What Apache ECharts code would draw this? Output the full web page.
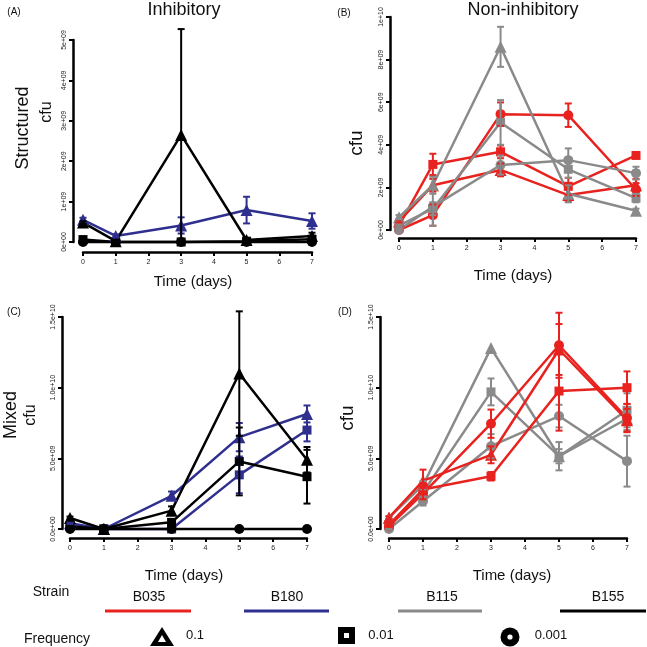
<!DOCTYPE html>
<html lang="en">
<head>
<meta charset="UTF-8">
<title>cfu over time</title>
<script src="https://cdn.jsdelivr.net/npm/echarts@6/dist/echarts.min.js"></script>
<style>
  html, body { margin: 0; padding: 0; background: #fff; }
  #chart { width: 647px; height: 647px; }
</style>
</head>
<body>
<div id="chart"></div>
<script>
// sampling days and tick labels
const days = [0, 1, 3, 5, 7];
const dayTicks = ['0', '1', '2', '3', '4', '5', '6', '7'];
const ticksA = ['0e+00', '1e+09', '2e+09', '3e+09', '4e+09', '5e+09'];
const ticksB = ['0e+00', '2e+09', '4e+09', '6e+09', '8e+09', '1e+10'];
const ticksCD = ['0.0e+00', '5.0e+09', '1.0e+10', '1.5e+10'];

// values in units of 1e9 cfu, err = half length of the error bar
// (A) inhibitory, structured
const aB180Tri = [0.55, 0.15, 0.41, 0.79, 0.52];
const aB180TriErr = [0.05, 0.04, 0.2, 0.33, 0.19];
const aB155Tri = [0.48, 0.02, 2.65, 0.05, 0.15];
const aB155TriErr = [0.03, 0, 2.62, 0.03, 0.08];
const aB155Sq = [0.06, 0, 0, 0.02, 0.07];
const aB155SqErr = [0, 0, 0, 0, 0];
const aB155Circ = [0, 0, 0, 0, 0];
const aB155CircErr = [0, 0, 0, 0, 0];

// (B) non-inhibitory, structured
const bB035Circ = [0.0, 0.7, 5.44, 5.39, 1.9];
const bB035CircErr = [0.05, 0.5, 0.55, 0.55, 0.3];
const bB035Sq = [0.2, 3.08, 3.67, 2.05, 3.5];
const bB035SqErr = [0.05, 0.5, 0.3, 0.4, 0.1];
const bB035Tri = [0.4, 2.1, 2.82, 1.64, 2.1];
const bB035TriErr = [0.05, 0.3, 0.3, 0.3, 0.3];
const bB115Tri = [0.6, 2.1, 8.6, 1.7, 0.9];
const bB115TriErr = [0.1, 0.4, 0.94, 0.4, 0.1];
const bB115Sq = [0.2, 1.0, 5.05, 2.85, 1.5];
const bB115SqErr = [0.05, 0.3, 1.05, 0.4, 0.2];
const bB115Circ = [0.0, 1.1, 3.05, 3.28, 2.67];
const bB115CircErr = [0.05, 0.9, 0.45, 0.55, 0.3];

// (C) inhibitory, mixed
const cB180Tri = [0.4, 0, 2.35, 6.5, 8.14];
const cB180TriErr = [0.05, 0, 0.3, 1.0, 0.6];
const cB180Sq = [0.2, 0, 0, 3.83, 7.0];
const cB180SqErr = [0, 0, 0, 1.3, 0.8];
const cB155Tri = [0.78, 0, 1.3, 11.0, 4.9];
const cB155TriErr = [0.1, 0, 0.3, 4.4, 0.9];
const cB155Sq = [0.2, 0, 0.47, 4.78, 3.7];
const cB155SqErr = [0, 0, 0.1, 2.4, 1.9];
const cB155Circ = [0, 0, 0, 0, 0];
const cB155CircErr = [0, 0, 0, 0, 0];

// (D) non-inhibitory, mixed
const dB115Tri = [0.8, 3.1, 12.8, 5.15, 7.8];
const dB115TriErr = [0.1, 0.3, 0, 0.5, 0.8];
const dB115Sq = [0.3, 2.6, 9.7, 5.15, 8.4];
const dB115SqErr = [0.05, 0.3, 0.95, 1.0, 1.2];
const dB115Circ = [0.0, 1.96, 5.86, 7.99, 4.8];
const dB115CircErr = [0.05, 0.3, 0.85, 0.8, 1.8];
const dB035Circ = [0.2, 2.5, 7.45, 13.0, 7.85];
const dB035CircErr = [0.05, 0.4, 1.0, 2.3, 1.0];
const dB035Sq = [0.3, 2.8, 3.73, 9.76, 10.0];
const dB035SqErr = [0.05, 0.3, 0.3, 2.8, 1.15];
const dB035Tri = [0.8, 3.4, 5.25, 12.7, 7.7];
const dB035TriErr = [0.1, 0.8, 0.6, 1.8, 0.8];

const RED = '#e8221e', BLUE = '#2f2f8f', GRAY = '#8a8a8a', BLACK = '#000000';
const FONT = 'Liberation Sans';

const chart = echarts.init(document.getElementById('chart'));

// plot boxes: x from day 0 to day 7, y from 0 to axis max
const panels = [
    { left: 83, top: 40, width: 229, height: 202 },
    { left: 399, top: 17, width: 237, height: 213 },
    { left: 70, top: 317, width: 237, height: 212 },
    { left: 389, top: 317, width: 238, height: 212 }
];
const yMax = [5, 10, 15, 15];
const yStep = [1, 2, 5, 5];
const yTicks = [ticksA, ticksB, ticksCD, ticksCD];
// R style: axes are pulled away from the plot box
const yOff = [10, 9, 8, 9];
const xOff = [10, 8, 9, 9];

// three grids per panel: data, shifted y axis, shifted x axis
const grids = [], xAxes = [], yAxes = [];
const hidden = { show: false };
panels.forEach((p, i) => {
    grids.push(p);
    grids.push({ left: p.left - yOff[i], top: p.top, width: p.width, height: p.height });
    grids.push({ left: p.left, top: p.top + xOff[i], width: p.width, height: p.height });
    for (let k = 0; k < 3; k++) {
        const gi = i * 3 + k;
        const xShow = k === 2, yShow = k === 1;
        xAxes.push({
            type: 'value', gridIndex: gi, min: 0, max: 7, interval: 1, show: xShow,
            axisLine: { show: xShow, onZero: false, lineStyle: { color: '#000', width: 2.5 } },
            axisTick: { show: xShow, length: 4, lineStyle: { color: '#000', width: 2 } },
            axisLabel: { show: xShow, fontSize: 7, color: '#222', margin: 7, fontFamily: FONT,
                formatter: v => dayTicks[v] },
            splitLine: hidden
        });
        yAxes.push({
            type: 'value', gridIndex: gi, min: 0, max: yMax[i], interval: yStep[i], show: yShow,
            axisLine: { show: yShow, onZero: false, lineStyle: { color: '#000', width: 2.5 } },
            axisTick: { show: yShow, length: 4, lineStyle: { color: '#000', width: 2 } },
            axisLabel: { show: yShow, fontSize: 7, color: '#222', margin: 5, rotate: 90, fontFamily: FONT,
                formatter: v => yTicks[i][Math.round(v / yStep[i])] },
            splitLine: hidden
        });
    }
});

const series = [];
const shapes = { tri: ['triangle', 12], sq: ['rect', 9], circ: ['circle', 10] };

function addGroup(panel, vals, errs, color, shape) {
    const gi = panel * 3;
    series.push({
        type: 'line', xAxisIndex: gi, yAxisIndex: gi, clip: false,
        data: days.map((d, k) => [d, vals[k]]),
        symbol: shapes[shape][0], symbolSize: shapes[shape][1],
        lineStyle: { color: color, width: 2.5 },
        itemStyle: { color: color },
        z: 3
    });
    const eb = [];
    days.forEach((d, k) => {
        if (errs[k] > 0) eb.push([d, vals[k] - errs[k], vals[k] + errs[k]]);
    });
    series.push({
        type: 'custom', xAxisIndex: gi, yAxisIndex: gi, clip: false, z: 4,
        data: eb,
        renderItem: (params, api) => {
            const top = api.coord([api.value(0), api.value(2)]);
            const bot = api.coord([api.value(0), api.value(1)]);
            const w = 3.5;
            const st = { stroke: color, lineWidth: 2 };
            return {
                type: 'group', children: [
                    { type: 'line', shape: { x1: top[0], y1: top[1], x2: bot[0], y2: bot[1] }, style: st },
                    { type: 'line', shape: { x1: top[0] - w, y1: top[1], x2: top[0] + w, y2: top[1] }, style: st },
                    { type: 'line', shape: { x1: bot[0] - w, y1: bot[1], x2: bot[0] + w, y2: bot[1] }, style: st }
                ]
            };
        }
    });
}

addGroup(0, aB180Tri, aB180TriErr, BLUE, 'tri');
addGroup(0, aB155Circ, aB155CircErr, BLACK, 'circ');
addGroup(0, aB155Sq, aB155SqErr, BLACK, 'sq');
addGroup(0, aB155Tri, aB155TriErr, BLACK, 'tri');

addGroup(1, bB035Circ, bB035CircErr, RED, 'circ');
addGroup(1, bB035Sq, bB035SqErr, RED, 'sq');
addGroup(1, bB035Tri, bB035TriErr, RED, 'tri');
addGroup(1, bB115Circ, bB115CircErr, GRAY, 'circ');
addGroup(1, bB115Sq, bB115SqErr, GRAY, 'sq');
addGroup(1, bB115Tri, bB115TriErr, GRAY, 'tri');

addGroup(2, cB180Tri, cB180TriErr, BLUE, 'tri');
addGroup(2, cB180Sq, cB180SqErr, BLUE, 'sq');
addGroup(2, cB155Circ, cB155CircErr, BLACK, 'circ');
addGroup(2, cB155Sq, cB155SqErr, BLACK, 'sq');
addGroup(2, cB155Tri, cB155TriErr, BLACK, 'tri');

addGroup(3, dB115Circ, dB115CircErr, GRAY, 'circ');
addGroup(3, dB115Sq, dB115SqErr, GRAY, 'sq');
addGroup(3, dB115Tri, dB115TriErr, GRAY, 'tri');
addGroup(3, dB035Circ, dB035CircErr, RED, 'circ');
addGroup(3, dB035Sq, dB035SqErr, RED, 'sq');
addGroup(3, dB035Tri, dB035TriErr, RED, 'tri');

// text helpers for titles, axis names and the legend
function txt(text, x, y, size, opts) {
    return Object.assign({
        type: 'text', x: x, y: y,
        style: { text: text, fontSize: size, fontFamily: FONT, fill: '#111',
            textAlign: 'center', textVerticalAlign: 'middle' }
    }, opts || {});
}
function vtxt(text, x, y, size) {
    return txt(text, x, y, size, { rotation: Math.PI / 2 });
}

const graphics = [
    txt('(A)', 14, 12, 10), txt('(B)', 344, 13, 10),
    txt('(C)', 14, 312, 10), txt('(D)', 345, 312, 10),
    txt('Inhibitory', 184, 10, 18), txt('Non-inhibitory', 523, 10, 18),
    vtxt('Structured', 23, 128, 18), vtxt('cfu', 47, 112, 16),
    vtxt('cfu', 357, 143, 19),
    vtxt('Mixed', 11, 415, 18), vtxt('cfu', 31, 415, 16),
    vtxt('cfu', 348, 418, 19),
    txt('Time (days)', 193, 282, 15), txt('Time (days)', 513, 276, 15),
    txt('Time (days)', 184, 576, 15), txt('Time (days)', 512, 576, 15),
    // strain legend
    txt('Strain', 51, 592, 14),
    txt('B035', 149, 597, 14), txt('B180', 287, 597, 14),
    txt('B115', 442, 597, 14), txt('B155', 608, 597, 14),
    { type: 'line', shape: { x1: 105, y1: 611, x2: 191, y2: 611 }, style: { stroke: RED, lineWidth: 3 } },
    { type: 'line', shape: { x1: 244, y1: 611, x2: 329, y2: 611 }, style: { stroke: BLUE, lineWidth: 3 } },
    { type: 'line', shape: { x1: 398, y1: 611, x2: 482, y2: 611 }, style: { stroke: GRAY, lineWidth: 3 } },
    { type: 'line', shape: { x1: 560, y1: 611, x2: 646, y2: 611 }, style: { stroke: BLACK, lineWidth: 3 } },
    // frequency legend
    txt('Frequency', 57, 639, 14),
    { type: 'polygon', shape: { points: [[150, 646], [174, 646], [162, 627]] }, style: { fill: '#000' } },
    { type: 'polygon', shape: { points: [[158, 642], [166, 642], [162, 635]] }, style: { fill: '#fff' } },
    txt('0.1', 195, 635, 13),
    { type: 'rect', shape: { x: 338, y: 627, width: 17, height: 17 }, style: { fill: '#000' } },
    { type: 'rect', shape: { x: 344, y: 633, width: 5, height: 5 }, style: { fill: '#fff' } },
    txt('0.01', 381, 635, 13),
    { type: 'circle', shape: { cx: 510, cy: 637, r: 9.5 }, style: { fill: '#000' } },
    { type: 'circle', shape: { cx: 510, cy: 637, r: 2.6 }, style: { fill: '#fff' } },
    txt('0.001', 551, 635, 13)
];

chart.setOption({
    animation: false,
    backgroundColor: '#fff',
    grid: grids,
    xAxis: xAxes,
    yAxis: yAxes,
    series: series,
    graphic: graphics
});
</script>
</body>
</html>
